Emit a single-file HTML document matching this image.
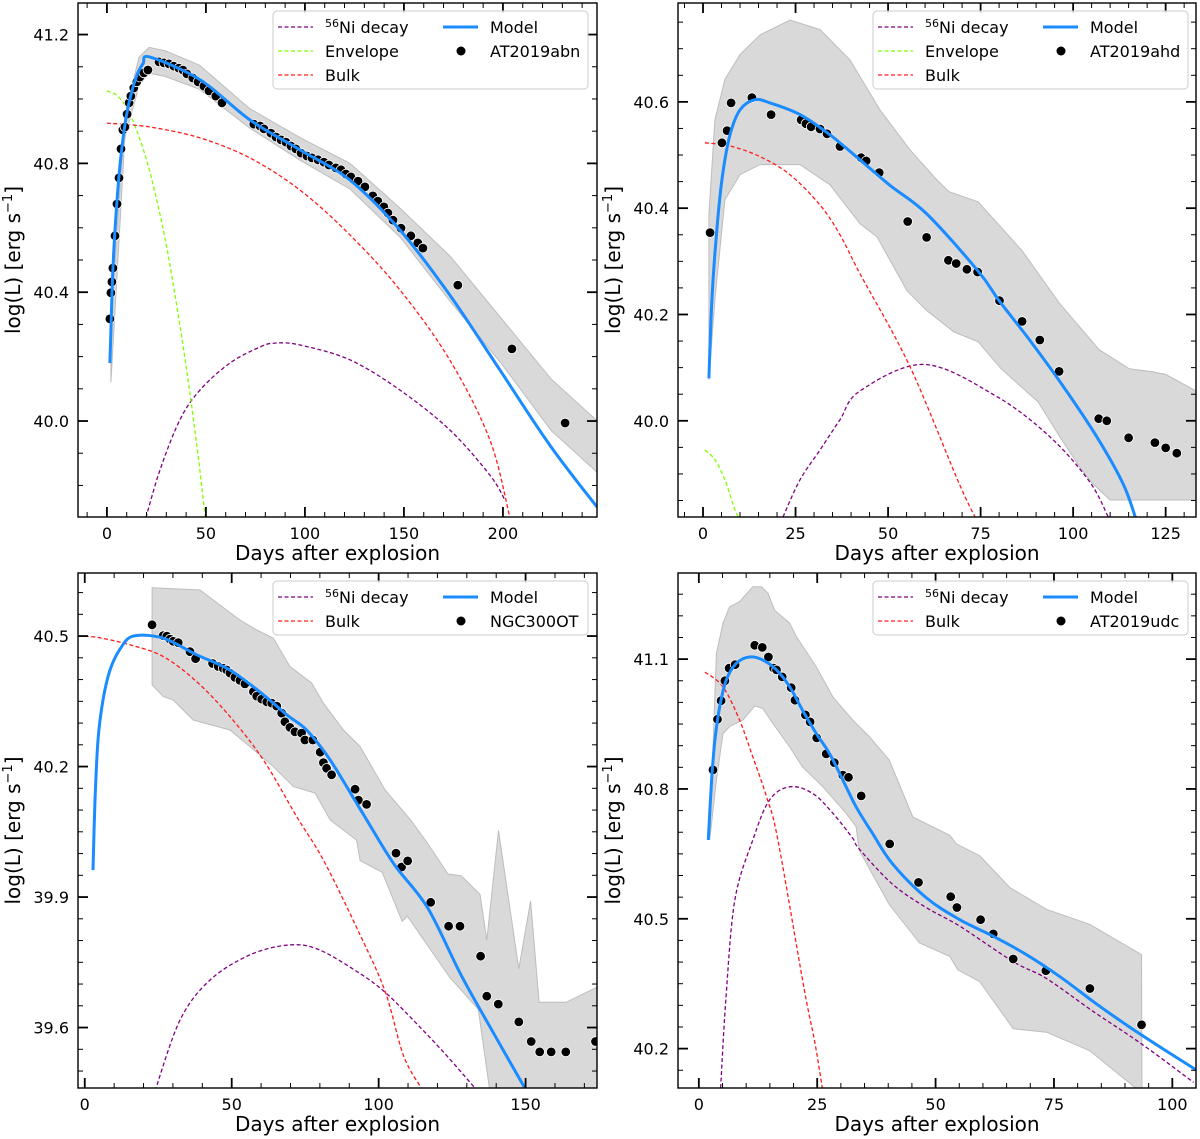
<!DOCTYPE html>
<html><head><meta charset="utf-8"><style>
html,body{margin:0;padding:0;background:#fff;}
svg{display:block;font-family:"DejaVu Sans","Liberation Sans",sans-serif;}
</style></head><body>
<svg id="fig" width="1200" height="1139" viewBox="0 0 1200 1139" xmlns="http://www.w3.org/2000/svg"></svg>
<script>
// ---------- Panel 1: AT2019abn ----------
const p1ObsDay=[1.5,2.0,2.5,3.0,4.1,5.1,6.1,7.1,8.1,9.1,10.2,11.2,12.1,13.6,15.1,16.6,18.7,20.7,26.3,28.8,31.3,33.8,36.3,38.4,40.4,43.4,46.0,49.0,51.5,55.0,58.1,74.2,77.3,79.3,82.8,85.4,87.9,90.4,92.9,95.4,98.0,101.0,103.5,106.6,109.6,112.1,115.6,118.2,120.7,123.2,126.8,130.3,134.3,136.8,139.9,141.9,144.5,148.5,153.5,157.0,159.6,177.2,204.5,231.4];
const p1ObsL=[40.317,40.398,40.432,40.475,40.575,40.674,40.755,40.845,40.904,40.913,40.953,40.988,41.009,41.034,41.053,41.068,41.081,41.09,41.115,41.112,41.109,41.102,41.096,41.09,41.078,41.065,41.053,41.04,41.025,41.009,40.988,40.922,40.916,40.907,40.894,40.882,40.873,40.866,40.854,40.845,40.832,40.823,40.817,40.811,40.804,40.795,40.786,40.78,40.767,40.758,40.745,40.727,40.699,40.683,40.665,40.646,40.624,40.599,40.575,40.553,40.537,40.422,40.224,39.994];
const p1ModelDay=[1.5,2,3,4.6,6.6,9.1,11.6,15.2,18.3,21.7,47.0,72.2,97.5,122.7,148.0,173.2,198.5,223.7,247.5];
const p1ModelL=[40.18,40.28,40.47,40.64,40.795,40.92,41.0,41.075,41.11,41.13,41.06,40.935,40.842,40.748,40.593,40.391,40.158,39.925,39.733];
const p1BandUpDay=[2,9.1,16.2,21.3,29.4,46.7,72.1,97.5,122.8,148.2,173.6,199,224.4,247.7];
const p1BandUpL=[40.31,40.95,41.13,41.16,41.15,41.105,40.97,40.88,40.80,40.66,40.51,40.32,40.13,40.0];
const p1BandLoDay=[2,9.1,16.2,21.3,29.4,46.7,72.1,97.5,122.8,148.2,173.6,199,224.4,247.7];
const p1BandLoL=[40.12,40.88,41.04,41.08,41.07,41.03,40.91,40.81,40.72,40.57,40.37,40.18,39.97,39.84];
const p1NiDay=[19.7,26.8,36.8,47.0,62.1,77.3,84.9,97.5,122.7,148.0,173.2,193.4,201.0];
const p1NiL=[39.70,39.848,40.003,40.096,40.18,40.23,40.242,40.236,40.19,40.096,39.972,39.832,39.755];
const p1EnvDay=[0,5.1,10.2,15.2,20.3,25.4,30.5,35.5,40.6,45.7,49.7];
const p1EnvL=[41.025,41.011,40.97,40.90,40.805,40.68,40.53,40.35,40.145,39.91,39.70];
const p1BulkDay=[0,21.7,47.0,72.2,97.5,122.7,148.0,173.2,193.4,203.5];
const p1BulkL=[40.925,40.913,40.879,40.817,40.717,40.578,40.407,40.189,39.941,39.70];
const p1XTicks=[0,50,100,150,200];
const p1YTicks=[40.0,40.4,40.8,41.2];

// ---------- Panel 2: AT2019ahd ----------
const p2ObsDay=[1.9,5.1,6.5,7.6,13.2,18.4,26.5,27.8,29.2,31.6,33.5,37,42.7,44.1,47.6,55.3,60.4,66.3,68.4,71.3,74.2,80.1,86.2,91,96.2,106.9,109.1,115,122.1,125,128];
const p2ObsL=[40.354,40.523,40.546,40.598,40.608,40.576,40.566,40.559,40.553,40.549,40.54,40.516,40.495,40.489,40.467,40.375,40.345,40.302,40.296,40.285,40.28,40.226,40.187,40.152,40.093,40.004,40.0,39.968,39.959,39.949,39.939];
const p2ModelDay=[1.6,2.4,3.5,5.1,7.3,10,14,18.1,26.2,34.3,42.4,50.5,60.5,74.3,80,87.8,97,106.2,113.4,116.8];
const p2ModelL=[40.08,40.228,40.34,40.453,40.538,40.585,40.604,40.598,40.576,40.538,40.491,40.443,40.389,40.282,40.226,40.156,40.068,39.972,39.883,39.819];
const p2BandUpDay=[1.6,3.2,5.9,10,15.4,23.5,31.6,39.7,47.8,55.9,63.2,66.5,74.3,86.2,96.2,107,115.1,121.6,125.1,133.5];
const p2BandUpL=[40.388,40.566,40.642,40.689,40.726,40.754,40.736,40.679,40.585,40.51,40.453,40.431,40.412,40.32,40.222,40.134,40.098,40.092,40.087,40.055];
const p2BandLoDay=[1.6,3.2,5.9,10,15.4,26.2,34.3,42.4,47,55.1,60.5,67.8,74.3,80.5,90.5,96.2,101.6,105.1,110,133.5];
const p2BandLoL=[40.077,40.228,40.416,40.463,40.482,40.482,40.444,40.371,40.346,40.245,40.207,40.167,40.149,40.098,40.036,39.972,39.915,39.883,39.851,39.851];
const p2NiDay=[21.6,26.2,31.6,37,42.4,59.7,78.8,93.4,104.3,109.5];
const p2NiL=[39.819,39.889,39.945,40.002,40.056,40.106,40.048,39.972,39.887,39.819];
const p2EnvDay=[0.5,3.2,5.9,8.6,9.5];
const p2EnvL=[39.945,39.927,39.889,39.833,39.82];
const p2BulkDay=[0.5,7.3,15.4,23.5,31.6,37,42.4,55.7,68.9,73.5];
const p2BulkL=[40.523,40.517,40.497,40.463,40.406,40.35,40.277,40.105,39.887,39.819];
const p2XTicks=[0,25,50,75,100,125];
const p2YTicks=[40.0,40.2,40.4,40.6];

// ---------- Panel 3: NGC300OT ----------
const p3ObsDay=[22.9,26.7,27.9,29,30.1,31.8,35.8,37.7,43.5,45.4,47.1,48.3,49.4,51.1,52.8,54.5,57.4,58.5,60.2,61.9,63.6,65.3,67,68.1,69.8,71.5,73.8,74.9,77.6,80.1,81.2,82.3,84,92,93.1,95.9,105.9,107.8,109.9,117.7,123.8,127.7,134.7,136.8,140.7,147.7,151.9,154.8,158.7,163.7,173.8];
const p3ObsL=[40.526,40.501,40.5,40.493,40.488,40.485,40.464,40.448,40.437,40.43,40.426,40.422,40.415,40.405,40.398,40.39,40.372,40.362,40.355,40.349,40.346,40.339,40.323,40.303,40.29,40.28,40.277,40.261,40.261,40.233,40.209,40.196,40.181,40.148,40.123,40.113,40.001,39.969,39.983,39.888,39.833,39.833,39.764,39.672,39.654,39.613,39.568,39.544,39.544,39.544,39.568];
const p3ModelDay=[2.8,3.5,4.5,6.2,8.6,12,16.5,26.7,38.1,49.4,60.8,68.7,75.5,83.5,94.8,105.2,116.7,128.1,139.7,150.6];
const p3ModelL=[39.962,40.123,40.261,40.353,40.422,40.47,40.5,40.495,40.457,40.422,40.365,40.319,40.284,40.215,40.09,39.976,39.875,39.72,39.58,39.451];
const p3BandUpDay=[22.9,39.2,52.8,58.5,64.2,69.8,77.2,81.2,88,93.7,102.2,110.9,116.7,123.6,128.1,134.5,136.8,140.8,147.7,151.7,154.6,163.8,175.3];
const p3BandUpL=[40.611,40.606,40.537,40.514,40.495,40.43,40.392,40.346,40.284,40.246,40.146,40.077,40.023,39.953,39.949,39.906,39.801,40.053,39.735,39.891,39.658,39.658,39.696];
const p3BandLoDay=[22.9,26.7,30.1,36.9,49.4,56.2,64.2,71,78.4,83.5,92.5,93.7,101.2,108,109.8,124.1,133.9,137.9,175.3];
const p3BandLoL=[40.388,40.361,40.353,40.307,40.284,40.246,40.2,40.154,40.139,40.077,40.031,39.984,39.957,39.844,39.856,39.716,39.642,39.451,39.451];
const p3NiDay=[23.9,32.4,42.6,56.2,69.8,80,93.7,102.2,110.9,122.4,133.4];
const p3NiL=[39.454,39.617,39.709,39.767,39.79,39.778,39.724,39.681,39.623,39.541,39.456];
const p3BulkDay=[0,5.2,15.4,26.7,38.1,49.4,60.8,72.1,81.2,93.7,102.3,108.6,115.5];
const p3BulkL=[40.5,40.496,40.48,40.453,40.395,40.315,40.215,40.085,39.985,39.813,39.681,39.533,39.451];
const p3XTicks=[0,50,100,150];
const p3YTicks=[39.6,39.9,40.2,40.5];

// ---------- Panel 4: AT2019udc ----------
const p4ObsDay=[3.0,3.95,4.7,5.5,6.4,7.65,11.8,13.4,14.7,15.8,16.4,17.6,19.5,20.3,22.5,23.5,24.9,26.9,28.6,30.4,31.6,34.3,40.3,46.4,53.2,54.5,59.5,62.2,66.4,73.3,82.6,93.5];
const p4ObsL=[40.844,40.961,41.004,41.05,41.079,41.087,41.132,41.127,41.105,41.079,41.075,41.059,41.034,41.005,40.971,40.955,40.918,40.881,40.861,40.832,40.827,40.784,40.673,40.584,40.551,40.526,40.498,40.465,40.407,40.38,40.339,40.255];
const p4ModelDay=[2.0,2.7,3.4,4.4,5.8,7.9,10.7,13.5,16.4,19.2,21.9,24.8,27.6,30.4,33.2,36.7,40.9,48,55.1,62.1,69.2,76.3,83.4,90.4,97.5,105.3];
const p4ModelL=[40.682,40.82,40.913,40.99,41.052,41.09,41.105,41.098,41.075,41.036,40.982,40.928,40.882,40.821,40.759,40.697,40.627,40.549,40.498,40.46,40.417,40.366,40.308,40.254,40.203,40.149];
const p4BandUpDay=[2.3,3.7,5.1,6.5,8.6,11.4,13.2,14.6,16,19.2,20.6,24.8,28.3,32.5,36,40.2,45.2,53,54.4,59.3,65.7,73.4,82.6,93.5,93.6];
const p4BandUpL=[40.682,41.113,41.183,41.221,41.233,41.267,41.267,41.252,41.213,41.183,41.152,41.082,41.013,40.959,40.921,40.867,40.735,40.693,40.673,40.646,40.572,40.522,40.487,40.417,40.09];
const p4BandLoDay=[2.3,3.7,5.1,6.5,9.3,11.8,13.5,15.6,19.2,21.9,26.2,31.1,33.2,33.9,40.2,46.6,53,54.7,59.3,66.4,73.4,82.6,93.5,93.6];
const p4BandLoL=[40.682,40.82,40.928,40.944,40.959,40.992,40.986,40.952,40.897,40.851,40.805,40.744,40.713,40.658,40.533,40.444,40.413,40.382,40.355,40.246,40.238,40.195,40.098,40.09];
const p4NiDay=[4.6,5.7,7.6,11.4,14.9,19.2,24,28.3,32.5,33.9,40.9,48,55.1,66.4,73.4,83.4,93.5,104.5];
const p4NiL=[40.109,40.312,40.543,40.682,40.774,40.805,40.79,40.744,40.686,40.661,40.58,40.526,40.483,40.401,40.362,40.285,40.211,40.122];
const p4BulkDay=[1.3,5.1,8.6,11.4,14.3,16.7,22.3,24.4,26.1];
const p4BulkL=[41.07,41.036,40.959,40.874,40.782,40.682,40.335,40.22,40.108];
const p4XTicks=[0,25,50,75,100];
const p4YTicks=[40.2,40.5,40.8,41.1];

const NS="http://www.w3.org/2000/svg";
const svg=document.getElementById('fig');
function mk(tag,attrs,parent){const e=document.createElementNS(NS,tag);for(const k in attrs)e.setAttribute(k,attrs[k]);(parent||svg).appendChild(e);return e;}

const COL={ni:'#800080',env:'#7fff00',bulk:'#ff1a1a',model:'#1a8cff',band:'#d9d9d9'};

function smoothPath(P){
  if(P.length<3)return P.map((p,i)=>(i?'L':'M')+p[0].toFixed(1)+','+p[1].toFixed(1)).join('');
  let s='M'+P[0][0].toFixed(1)+','+P[0][1].toFixed(1);
  for(let i=0;i<P.length-1;i++){
    const p0=P[i-1]||P[i],p1=P[i],p2=P[i+1],p3=P[i+2]||P[i+1];
    const c1=[p1[0]+(p2[0]-p0[0])/6,p1[1]+(p2[1]-p0[1])/6];
    const c2=[p2[0]-(p3[0]-p1[0])/6,p2[1]-(p3[1]-p1[1])/6];
    s+='C'+c1[0].toFixed(1)+','+c1[1].toFixed(1)+' '+c2[0].toFixed(1)+','+c2[1].toFixed(1)+' '+p2[0].toFixed(1)+','+p2[1].toFixed(1);
  }
  return s;
}

function panel(c){
  const g=mk('g',{});
  
  
  const X0=c.box[0],Y0=c.box[1],X1=c.box[2],Y1=c.box[3];
  const sx=d=>X0+(d-c.xd[0])/(c.xd[1]-c.xd[0])*(X1-X0);
  const sy=v=>Y1-(v-c.yd[0])/(c.yd[1]-c.yd[0])*(Y1-Y0);
  const cid='clip-'+c.name;
  const cp=mk('clipPath',{id:cid},g);
  mk('rect',{x:X0,y:Y0,width:X1-X0,height:Y1-Y0},cp);
  const pg=mk('g',{'clip-path':'url(#'+cid+')'},g);
  let pts=[];
  c.bandUpDay.forEach((d,i)=>pts.push(sx(d).toFixed(1)+','+sy(c.bandUpL[i]).toFixed(1)));
  for(let i=c.bandLoDay.length-1;i>=0;i--)pts.push(sx(c.bandLoDay[i]).toFixed(1)+','+sy(c.bandLoL[i]).toFixed(1));
  const band=mk('polygon',{points:pts.join(' '),fill:COL.band,stroke:'#bdbdbd','stroke-width':1},pg);
  
  
  function line(days,vals,color,w,dash,name){
    const P=days.map((d,i)=>[sx(d),sy(vals[i])]);
    const a={d:smoothPath(P),fill:'none',stroke:color,'stroke-width':w,'stroke-linejoin':'round'};
    if(dash)a['stroke-dasharray']=dash;
    const el=mk('path',a,pg);
    
    
  }
  line(c.niDay,c.niL,COL.ni,1.3,'4,2.5','ni-decay-curve');
  if(c.envDay)line(c.envDay,c.envL,COL.env,1.3,'4,2.5','envelope-curve');
  line(c.bulkDay,c.bulkL,COL.bulk,1.3,'4,2.5','bulk-curve');
  c.obsDay.forEach((d,i)=>{
    const el=mk('circle',{cx:sx(d).toFixed(1),cy:sy(c.obsL[i]).toFixed(1),r:4.8,fill:'#000',stroke:'#fff','stroke-width':0.8},pg);
    
    
  });
  line(c.modelDay,c.modelL,COL.model,3,null,'model-curve');
  const tg=mk('g',{stroke:'#000'},g);
  for(let v=Math.ceil(c.xd[0]/c.xminor)*c.xminor;v<=c.xd[1];v+=c.xminor){
    const x=sx(v);const maj=c.xTicks.some(t=>Math.abs(t-v)<1e-6);const L=maj?10:5;const w=maj?1.8:1;
    mk('line',{x1:x,y1:Y1,x2:x,y2:Y1-L,'stroke-width':w},tg);
    mk('line',{x1:x,y1:Y0,x2:x,y2:Y0+L,'stroke-width':w},tg);
  }
  for(let k=Math.ceil(c.yd[0]/c.yminor-1e-6);k*c.yminor<=c.yd[1];k++){
    const v=k*c.yminor;const y=sy(v);const maj=c.yTicks.some(t=>Math.abs(t-v)<1e-6);const L=maj?10:5;const w=maj?1.8:1;
    mk('line',{x1:X0,y1:y,x2:X0+L,y2:y,'stroke-width':w},tg);
    mk('line',{x1:X1,y1:y,x2:X1-L,y2:y,'stroke-width':w},tg);
  }
  c.xTicks.forEach(t=>{
    const el=mk('text',{x:sx(t),y:Y1+22,'text-anchor':'middle','font-size':16},g);
    el.textContent=String(t);
    
    
  });
  c.yTicks.forEach(t=>{
    const el=mk('text',{x:X0-9,y:sy(t)+6,'text-anchor':'end','font-size':16},g);
    el.textContent=t.toFixed(1);
    
    
  });
  const fr=mk('rect',{x:X0,y:Y0,width:X1-X0,height:Y1-Y0,fill:'none',stroke:'#000','stroke-width':1.4},g);
  
  
  const xt=mk('text',{x:(X0+X1)/2,y:Y1+43,'text-anchor':'middle','font-size':20},g);
  xt.textContent='Days after explosion';
  
  
  const yc=(Y0+Y1)/2, yx=X0-58;
  const yt=mk('text',{x:yx,y:yc,'text-anchor':'middle','font-size':20,transform:'rotate(-90 '+yx+' '+yc+')'},g);
  
  
  yt.appendChild(document.createTextNode('log(L) [erg s'));
  const sp=mk('tspan',{'font-size':13,dy:-8},yt);sp.textContent='−1';
  const sp2=mk('tspan',{dy:8},yt);sp2.textContent=']';
  const lg=mk('g',{},g);
  
  
  const rows=c.envDay?3:2;
  const LX=X0+195, LY=Y0+8;
  mk('rect',{x:LX,y:LY,width:315,height:rows===3?78:54,rx:4,fill:'#fff','fill-opacity':0.85,stroke:'#ccc','stroke-width':1},lg);
  const col1=[['ni',COL.ni]];if(c.envDay)col1.push(['Envelope',COL.env]);col1.push(['Bulk',COL.bulk]);
  col1.forEach((e,i)=>{
    const y=LY+16+i*24;
    mk('line',{x1:LX+5,y1:y,x2:LX+40,y2:y,stroke:e[1],'stroke-width':1.3,'stroke-dasharray':'4,2.5'},lg);
    const t=mk('text',{x:LX+52,y:y+6,'font-size':16},lg);
    
    
    if(e[0]==='ni'){const s=mk('tspan',{'font-size':11,dy:-6},t);s.textContent='56';const s2=mk('tspan',{dy:6},t);s2.textContent='Ni decay';}
    else t.textContent=e[0];
  });
  let y=LY+16;
  mk('line',{x1:LX+170,y1:y,x2:LX+205,y2:y,stroke:COL.model,'stroke-width':3},lg);
  let t=mk('text',{x:LX+217,y:y+6,'font-size':16},lg);t.textContent='Model';
  
  
  y+=24;
  mk('circle',{cx:LX+188,cy:y,r:4.5,fill:'#000'},lg);
  t=mk('text',{x:LX+217,y:y+6,'font-size':16},lg);t.textContent=c.label;
  
  
}

panel({name:'at2019abn',label:'AT2019abn',box:[78,3,597,517],xd:[-14.6,247.5],yd:[39.702,41.298],xTicks:p1XTicks,yTicks:p1YTicks,xminor:10,yminor:0.1,
  obsDay:p1ObsDay,obsL:p1ObsL,modelDay:p1ModelDay,modelL:p1ModelL,bandUpDay:p1BandUpDay,bandUpL:p1BandUpL,bandLoDay:p1BandLoDay,bandLoL:p1BandLoL,
  niDay:p1NiDay,niL:p1NiL,envDay:p1EnvDay,envL:p1EnvL,bulkDay:p1BulkDay,bulkL:p1BulkL});
panel({name:'at2019ahd',label:'AT2019ahd',box:[678,3,1196,517],xd:[-6.76,133.2],yd:[39.819,40.786],xTicks:p2XTicks,yTicks:p2YTicks,xminor:5,yminor:0.05,
  obsDay:p2ObsDay,obsL:p2ObsL,modelDay:p2ModelDay,modelL:p2ModelL,bandUpDay:p2BandUpDay,bandUpL:p2BandUpL,bandLoDay:p2BandLoDay,bandLoL:p2BandLoL,
  niDay:p2NiDay,niL:p2NiL,envDay:p2EnvDay,envL:p2EnvL,bulkDay:p2BulkDay,bulkL:p2BulkL});
panel({name:'ngc300ot',label:'NGC300OT',box:[78,573,597,1088],xd:[-2.3,174.3],yd:[39.461,40.645],xTicks:p3XTicks,yTicks:p3YTicks,xminor:10,yminor:0.05,
  obsDay:p3ObsDay,obsL:p3ObsL,modelDay:p3ModelDay,modelL:p3ModelL,bandUpDay:p3BandUpDay,bandUpL:p3BandUpL,bandLoDay:p3BandLoDay,bandLoL:p3BandLoL,
  niDay:p3NiDay,niL:p3NiL,bulkDay:p3BulkDay,bulkL:p3BulkL});
panel({name:'at2019udc',label:'AT2019udc',box:[678,573,1196,1088],xd:[-4.4,105],yd:[40.109,41.299],xTicks:p4XTicks,yTicks:p4YTicks,xminor:5,yminor:0.05,
  obsDay:p4ObsDay,obsL:p4ObsL,modelDay:p4ModelDay,modelL:p4ModelL,bandUpDay:p4BandUpDay,bandUpL:p4BandUpL,bandLoDay:p4BandLoDay,bandLoL:p4BandLoL,
  niDay:p4NiDay,niL:p4NiL,bulkDay:p4BulkDay,bulkL:p4BulkL});
</script>
</body></html>
